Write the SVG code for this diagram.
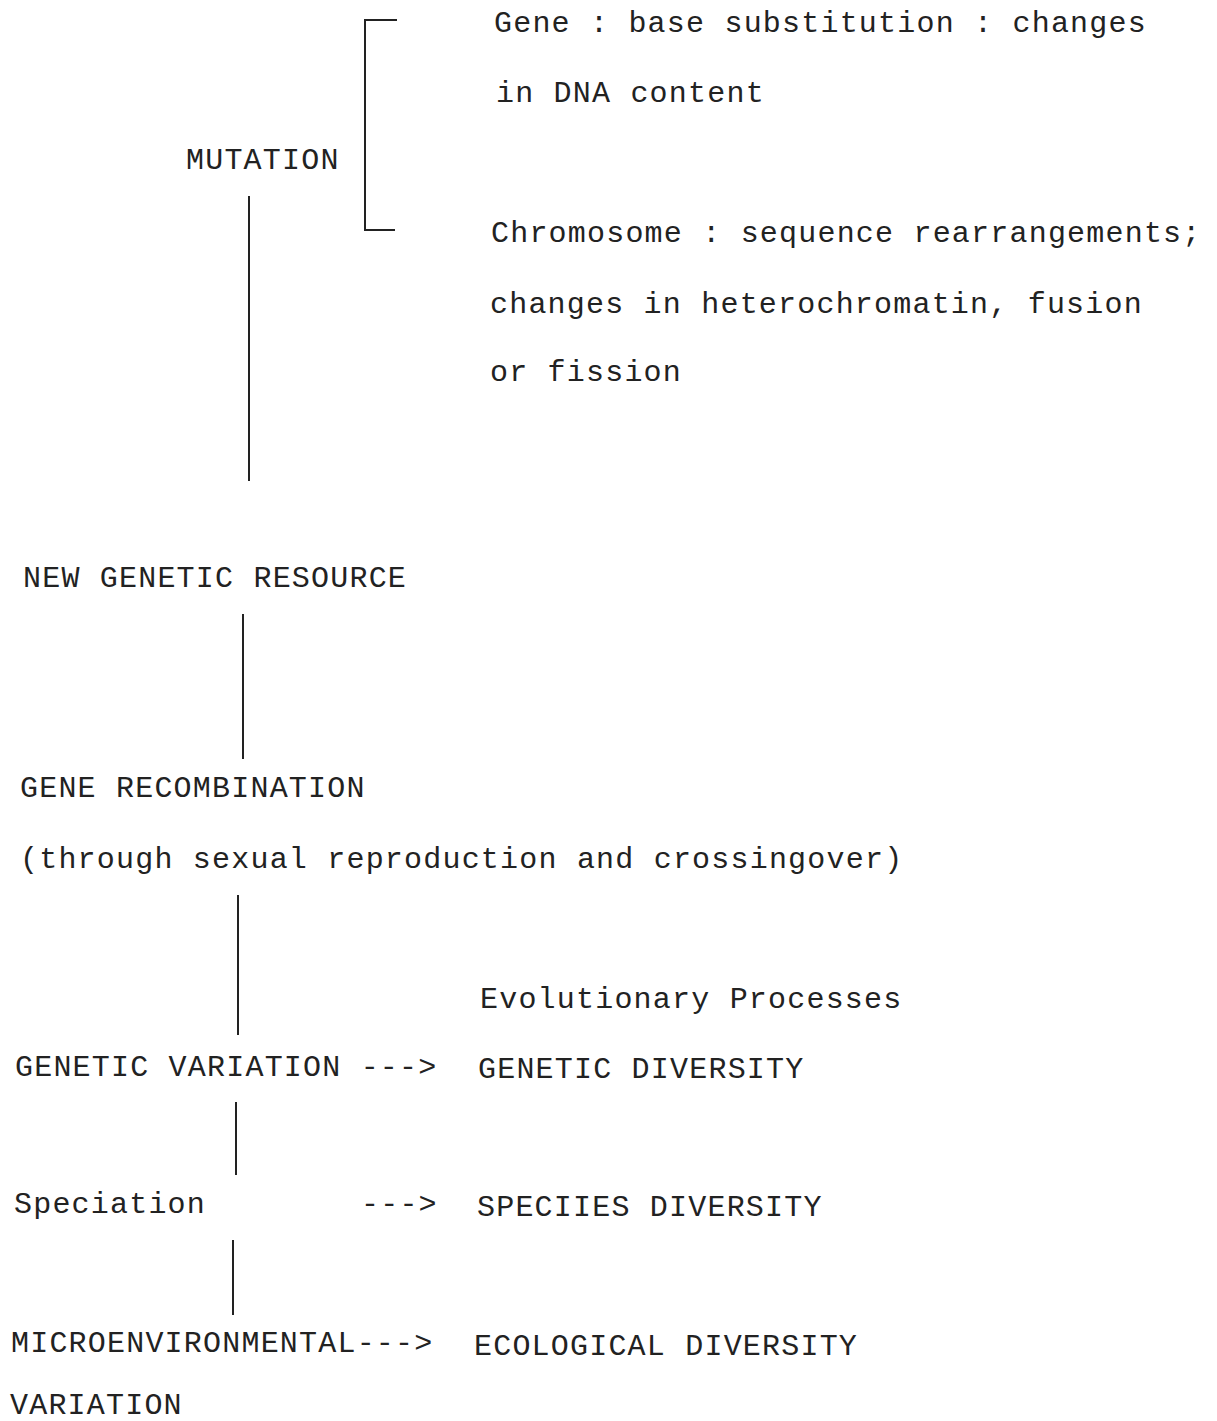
<svg xmlns="http://www.w3.org/2000/svg" width="1217" height="1421" viewBox="0 0 1217 1421">
<style>
text{font-family:"Liberation Mono","DejaVu Sans Mono",monospace;font-size:30px;letter-spacing:1.2px;fill:#222}
.ln{stroke:#222;stroke-width:2;fill:none}
</style>
<rect width="1217" height="1421" fill="#fff"/>
<g id="connectors">
<path class="ln" d="M397 20H365V230H395"/>
<line class="ln" x1="249" y1="196" x2="249" y2="481"/>
<line class="ln" x1="243" y1="614" x2="243" y2="759"/>
<line class="ln" x1="238" y1="895" x2="238" y2="1035"/>
<line class="ln" x1="236" y1="1102" x2="236" y2="1175"/>
<line class="ln" x1="233" y1="1240" x2="233" y2="1315"/>
</g>
<g id="gene"><text x="494" y="32">Gene : base substitution : changes</text><text x="496" y="102">in DNA content</text></g>
<g id="mutation"><text x="186" y="169">MUTATION</text></g>
<g id="chromosome"><text x="491" y="242">Chromosome : sequence rearrangements;</text><text x="490" y="313">changes in heterochromatin, fusion</text><text x="490" y="381">or fission</text></g>
<g id="new-genetic-resource"><text x="23" y="587">NEW GENETIC RESOURCE</text></g>
<g id="gene-recombination"><text x="20" y="797">GENE RECOMBINATION</text><text x="20" y="868">(through sexual reproduction and crossingover)</text></g>
<g id="evolutionary-processes"><text x="480" y="1008">Evolutionary Processes</text></g>
<g id="genetic-variation"><text x="15" y="1076">GENETIC VARIATION ---&gt;</text></g>
<g id="genetic-diversity"><text x="478" y="1078">GENETIC DIVERSITY</text></g>
<g id="speciation"><text x="14" y="1213">Speciation</text><text x="361" y="1213">---&gt;</text></g>
<g id="species-diversity"><text x="477" y="1216">SPECIIES DIVERSITY</text></g>
<g id="microenvironmental"><text x="11" y="1352">MICROENVIRONMENTAL---&gt;</text><text x="10" y="1414">VARIATION</text></g>
<g id="ecological-diversity"><text x="474" y="1355">ECOLOGICAL DIVERSITY</text></g>
</svg>
